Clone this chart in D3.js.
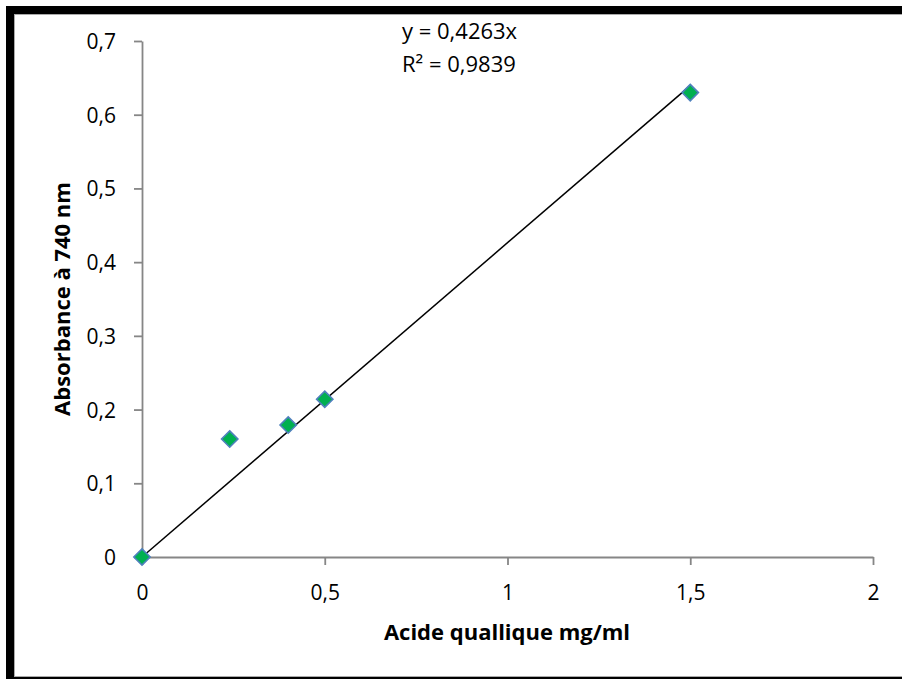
<!DOCTYPE html>
<html>
<head>
<meta charset="utf-8">
<script src="https://cdn.jsdelivr.net/npm/d3@7.9.0/dist/d3.min.js"></script>
<style>
  body { margin: 0; background: #fff; }
  svg { display: block; font-family: "Open Sans", "Liberation Sans", sans-serif; }
</style>
</head>
<body>
<svg id="chart" width="902" height="679"></svg>
<script>
// data
const concentrations = [0, 0.24, 0.4, 0.5, 1.5];
const absorbances = [0, 0.16, 0.179, 0.214, 0.63];
const slope = 0.4263;
const xTicks = [0, 0.5, 1, 1.5, 2];
const yTicks = [0, 0.1, 0.2, 0.3, 0.4, 0.5, 0.6, 0.7];
const equationLines = ['y = 0,4263x', 'R² = 0,9839'];

const svg = d3.select('#chart');

// thick frame, cut off at right and bottom like the screenshot
svg.append('rect')
  .attr('x', 10).attr('y', 10)
  .attr('width', 920).attr('height', 671)
  .attr('fill', 'none').attr('stroke', '#000').attr('stroke-width', 8);
svg.append('rect')
  .attr('x', 14.5).attr('y', 14.5)
  .attr('width', 920).attr('height', 662)
  .attr('fill', 'none').attr('stroke', '#aaa').attr('stroke-width', 1);

const x = d3.scaleLinear().domain([0, 2]).range([142, 873]);
const y = d3.scaleLinear().domain([0, 0.7]).range([557, 41]);
const fmt = d => String(d).replace('.', ',');

const axisColor = '#868686';

const gx = svg.append('g').attr('transform', `translate(0,${y(0)})`)
  .call(d3.axisBottom(x).tickValues(xTicks).tickSize(8).tickSizeOuter(0).tickFormat(fmt));
const gy = svg.append('g').attr('transform', `translate(${x(0)},0)`)
  .call(d3.axisLeft(y).tickValues(yTicks).tickSize(8).tickSizeOuter(0).tickPadding(18).tickFormat(fmt));

[gx, gy].forEach(g => {
  g.select('.domain').attr('stroke', axisColor).attr('stroke-width', 1.8);
  g.selectAll('.tick line').attr('stroke', axisColor).attr('stroke-width', 1.8);
  g.selectAll('.tick text').attr('fill', '#000').attr('font-size', 21)
    .attr('font-family', '"Open Sans", sans-serif');
});
gx.selectAll('.tick text').attr('y', 43).attr('dy', 0);
gy.selectAll('.tick text').attr('dy', '0.36em');

// trendline through origin
svg.append('line')
  .attr('x1', x(0)).attr('y1', y(0))
  .attr('x2', x(d3.max(concentrations))).attr('y2', y(slope * d3.max(concentrations)))
  .attr('stroke', '#000').attr('stroke-width', 1.5);

// diamond markers
const diamond = d3.symbol().type(d3.symbolDiamond2).size(170);
svg.selectAll('path.pt')
  .data(concentrations.map((c, i) => [c, absorbances[i]]))
  .join('path')
  .attr('class', 'pt')
  .attr('d', diamond)
  .attr('transform', d => `translate(${x(d[0])},${y(d[1])})`)
  .attr('fill', '#00B050')
  .attr('stroke', '#4F81BD')
  .attr('stroke-width', 1.6);

// equation label
svg.selectAll('text.eq')
  .data(equationLines)
  .join('text')
  .attr('class', 'eq')
  .attr('x', 402)
  .attr('y', (d, i) => 39 + i * 33)
  .attr('font-size', 22)
  .text(d => d);

// axis titles
svg.append('text')
  .attr('x', 507).attr('y', 640)
  .attr('text-anchor', 'middle')
  .attr('font-size', 22).attr('font-weight', 'bold')
  .text('Acide quallique mg/ml');

svg.append('text')
  .attr('transform', 'translate(70,299) rotate(-90)')
  .attr('text-anchor', 'middle')
  .attr('font-size', 22).attr('font-weight', 'bold')
  .text('Absorbance à 740 nm');
</script>
</body>
</html>
